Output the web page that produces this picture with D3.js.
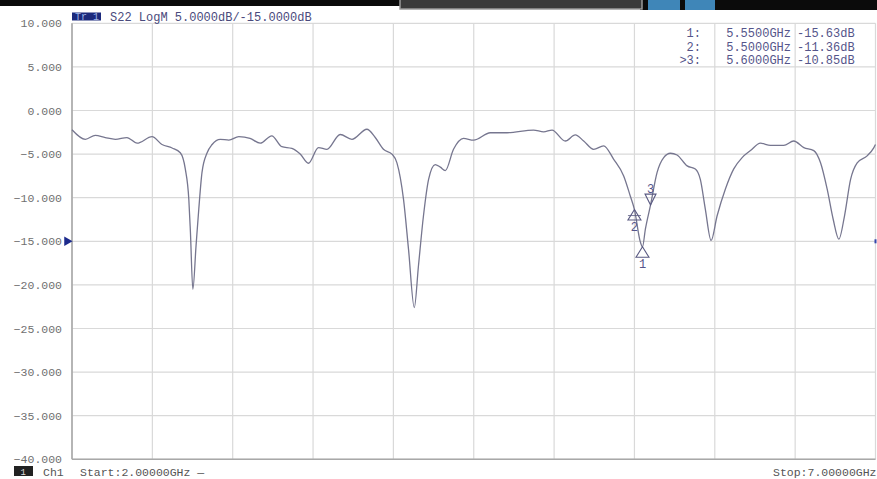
<!doctype html>
<html lang="en">
<head>
<meta charset="utf-8">
<title>S22 LogM</title>
<style>
  body { margin: 0; background: #fff; }
  svg { display: block; }
  .tick text { font-family: "Liberation Mono", monospace; font-size: 11.5px; fill: #707070; }
  .hdr { font-family: "Liberation Mono", monospace; font-size: 12px; fill: #4a4a7c; }
  .mk { font-family: "Liberation Mono", monospace; font-size: 12px; fill: #55558a; }
  .foot { font-family: "Liberation Mono", monospace; font-size: 11.5px; fill: #555; }
</style>
</head>
<body>
<svg id="chart" width="877" height="479"></svg>
<script src="https://d3js.org/d3.v7.min.js"></script>
<script>
// trace: frequency (GHz) and S22 (dB)
var freqGHz = [2.000, 2.083, 2.145, 2.207, 2.270, 2.342, 2.405, 2.498, 2.560, 2.623,
  2.674, 2.705, 2.727, 2.737, 2.752, 2.772, 2.789, 2.809, 2.841, 2.872,
  2.923, 2.976, 3.038, 3.108, 3.171, 3.243, 3.306, 3.368, 3.420, 3.471,
  3.534, 3.586, 3.669, 3.742, 3.835, 3.887, 3.938, 3.991, 4.022, 4.063,
  4.094, 4.130, 4.156, 4.187, 4.219, 4.260, 4.292, 4.323, 4.374, 4.436,
  4.499, 4.603, 4.707, 4.872, 4.935, 4.987, 5.070, 5.132, 5.184, 5.246,
  5.308, 5.371, 5.433, 5.474, 5.500, 5.537, 5.550, 5.568, 5.600, 5.641,
  5.682, 5.724, 5.765, 5.828, 5.879, 5.910, 5.941, 5.977, 6.014, 6.066,
  6.118, 6.170, 6.222, 6.284, 6.346, 6.429, 6.491, 6.554, 6.616, 6.658,
  6.699, 6.737, 6.772, 6.807, 6.845, 6.886, 6.948, 6.990, 7.000];
var s22dB = [-2.2, -3.3, -2.85, -3.1, -3.3, -3.1, -3.75, -3.0, -3.9, -4.3,
  -4.85, -6.7, -10.2, -14.0, -20.5, -15.5, -11.3, -7.1, -4.85, -3.9,
  -3.3, -3.4, -3.0, -3.2, -3.75, -2.9, -4.15, -4.35, -5.0, -6.05,
  -4.25, -4.45, -2.75, -3.3, -2.15, -3.1, -4.45, -5.0, -6.0, -10.2,
  -15.9, -22.6, -17.8, -12.1, -7.9, -6.2, -6.5, -6.9, -4.45, -3.2,
  -3.4, -2.55, -2.55, -2.25, -2.45, -2.25, -3.5, -2.8, -3.5, -4.45,
  -4.05, -5.6, -7.5, -9.8, -11.36, -15.1, -15.63, -13.6, -10.85, -7.1,
  -5.4, -4.9, -5.1, -6.35, -6.7, -7.9, -11.3, -14.9, -12.1, -9.0,
  -6.7, -5.4, -4.6, -3.75, -4.0, -4.0, -3.5, -4.25, -4.6, -6.0,
  -9.0, -12.5, -14.75, -12.1, -7.9, -6.0, -5.2, -4.25, -3.9];

// markers
var markerIds = ["1", "2", "3"];
var markerFreq = [5.55, 5.50, 5.60];
var markerDb = [-15.63, -11.36, -10.85];
var markerLabels = ["1:", "2:", ">3:"];
var markerFreqText = ["5.5500GHz", "5.5000GHz", "5.6000GHz"];
var markerDbText = ["-15.63dB", "-11.36dB", "-10.85dB"];

var yTicks = [10, 5, 0, -5, -10, -15, -20, -25, -30, -35, -40];
var xGrid = [2, 2.5, 3, 3.5, 4, 4.5, 5, 5.5, 6, 6.5, 7];
var refLevel = -15;

var svg = d3.select("#chart");
var plotLeft = 72, plotRight = 875.5, plotTop = 23.3, plotBottom = 459.3;

var x = d3.scaleLinear().domain([2, 7]).range([plotLeft, plotRight]);
var y = d3.scaleLinear().domain([-40, 10]).range([plotBottom, plotTop]);

// top status bar
svg.append("rect").attr("x", 0).attr("y", 0).attr("width", 877).attr("height", 6).attr("fill", "#0b0b0b");
svg.append("rect").attr("x", 640).attr("y", 0).attr("width", 237).attr("height", 10).attr("fill", "#0b0b0b");
svg.append("rect").attr("x", 400).attr("y", -1).attr("width", 242).attr("height", 10)
  .attr("fill", "#3a3a3a").attr("stroke", "#9a9a9a").attr("stroke-width", 1.5);
svg.append("rect").attr("x", 648).attr("y", 0).attr("width", 32).attr("height", 10).attr("fill", "#3f86b8");
svg.append("rect").attr("x", 685).attr("y", 0).attr("width", 30).attr("height", 10).attr("fill", "#3f86b8");

// grid
var grid = svg.append("g");
grid.selectAll("line.h").data(yTicks).enter().append("line")
  .attr("x1", plotLeft).attr("x2", plotRight)
  .attr("y1", function(d) { return y(d); }).attr("y2", function(d) { return y(d); })
  .attr("stroke", "#d9d9d9").attr("stroke-width", 1.2);
grid.selectAll("line.v").data(xGrid).enter().append("line")
  .attr("y1", plotTop).attr("y2", plotBottom)
  .attr("x1", function(d) { return x(d); }).attr("x2", function(d) { return x(d); })
  .attr("stroke", "#d9d9d9").attr("stroke-width", 1.2);

// left and bottom frame
svg.append("line").attr("x1", plotLeft).attr("x2", plotLeft).attr("y1", plotTop).attr("y2", plotBottom)
  .attr("stroke", "#a8a8a8").attr("stroke-width", 1.6);
svg.append("line").attr("x1", plotLeft).attr("x2", plotRight).attr("y1", plotBottom).attr("y2", plotBottom)
  .attr("stroke", "#a8a8a8").attr("stroke-width", 1.6);

// y axis labels
var yAxis = d3.axisLeft(y).tickValues(yTicks).tickSize(0).tickPadding(10)
  .tickFormat(d3.format(".3f"));
var ya = svg.append("g").attr("transform", "translate(" + plotLeft + ",0)").call(yAxis);
ya.select(".domain").remove();

// header
svg.append("rect").attr("x", 72).attr("y", 12.5).attr("width", 29).attr("height", 8).attr("fill", "#1c2a7c");
svg.append("text").attr("x", 75).attr("y", 20).attr("font-family", "Liberation Mono")
  .attr("font-size", 10).attr("fill", "#9fb3e6").text("Tr 1");
svg.append("text").attr("class", "hdr").attr("x", 110).attr("y", 20.5).text("S22 LogM 5.0000dB/-15.0000dB");

// trace
var pts = freqGHz.map(function(f, i) { return [f, s22dB[i]]; });
var line = d3.line()
  .x(function(d) { return x(d[0]); })
  .y(function(d) { return y(d[1]); })
  .curve(d3.curveMonotoneX);
svg.append("path").datum(pts).attr("d", line)
  .attr("fill", "none").attr("stroke", "#76768f").attr("stroke-width", 1.3);

// reference level arrows
svg.append("path").attr("d", d3.symbol().type(d3.symbolTriangle).size(40)())
  .attr("transform", "translate(" + (plotLeft - 5) + "," + y(refLevel) + ") rotate(90)")
  .attr("fill", "#1c2a8c");
svg.append("rect").attr("x", plotRight - 1).attr("y", y(refLevel) - 2).attr("width", 2).attr("height", 4).attr("fill", "#3344aa");

// marker triangles
var mk = svg.append("g");
markerIds.forEach(function(id, i) {
  var cx = x(markerFreq[i]), cy = y(markerDb[i]);
  var active = (i == 2);
  var tri;
  if (active) {
    tri = [[cx - 5.5, cy - 11], [cx + 5.5, cy - 11], [cx, cy]];
  } else {
    tri = [[cx, cy], [cx - 6.5, cy + 10.5], [cx + 6.5, cy + 10.5]];
  }
  mk.append("path").attr("d", "M" + tri.join("L") + "Z")
    .attr("fill", "none").attr("stroke", "#5a5a82").attr("stroke-width", 1.1);
  if (i == 1) {
    mk.append("line").attr("x1", cx - 6.5).attr("x2", cx + 6.5).attr("y1", cy + 6).attr("y2", cy + 6)
      .attr("stroke", "#5a5a82").attr("stroke-width", 0.8);
  }
  mk.append("text").attr("class", "mk")
    .attr("x", cx).attr("y", active ? cy - 12 : cy + 21)
    .attr("text-anchor", "middle").attr("font-size", 9.5)
    .text(id);
});

// marker readout
var rows = svg.append("g");
markerLabels.forEach(function(lbl, i) {
  var ty = 37 + i * 13.5;
  rows.append("text").attr("class", "mk").attr("x", 701).attr("y", ty).attr("text-anchor", "end").text(lbl);
  rows.append("text").attr("class", "mk").attr("x", 791).attr("y", ty).attr("text-anchor", "end").text(markerFreqText[i]);
  rows.append("text").attr("class", "mk").attr("x", 797).attr("y", ty).text(markerDbText[i]);
});

// footer
svg.append("rect").attr("x", 14).attr("y", 466).attr("width", 19).attr("height", 10).attr("fill", "#222");
svg.append("text").attr("x", 20.5).attr("y", 474.5).attr("font-family", "Liberation Mono")
  .attr("font-size", 9).attr("fill", "#ddd").text("1");
svg.append("text").attr("class", "foot").attr("x", 43).attr("y", 476).text("Ch1");
svg.append("text").attr("class", "foot").attr("x", 80).attr("y", 476).text("Start:2.00000GHz \u2014");
svg.append("text").attr("class", "foot").attr("x", 773).attr("y", 476).text("Stop:7.00000GHz");
</script>
</body>
</html>
